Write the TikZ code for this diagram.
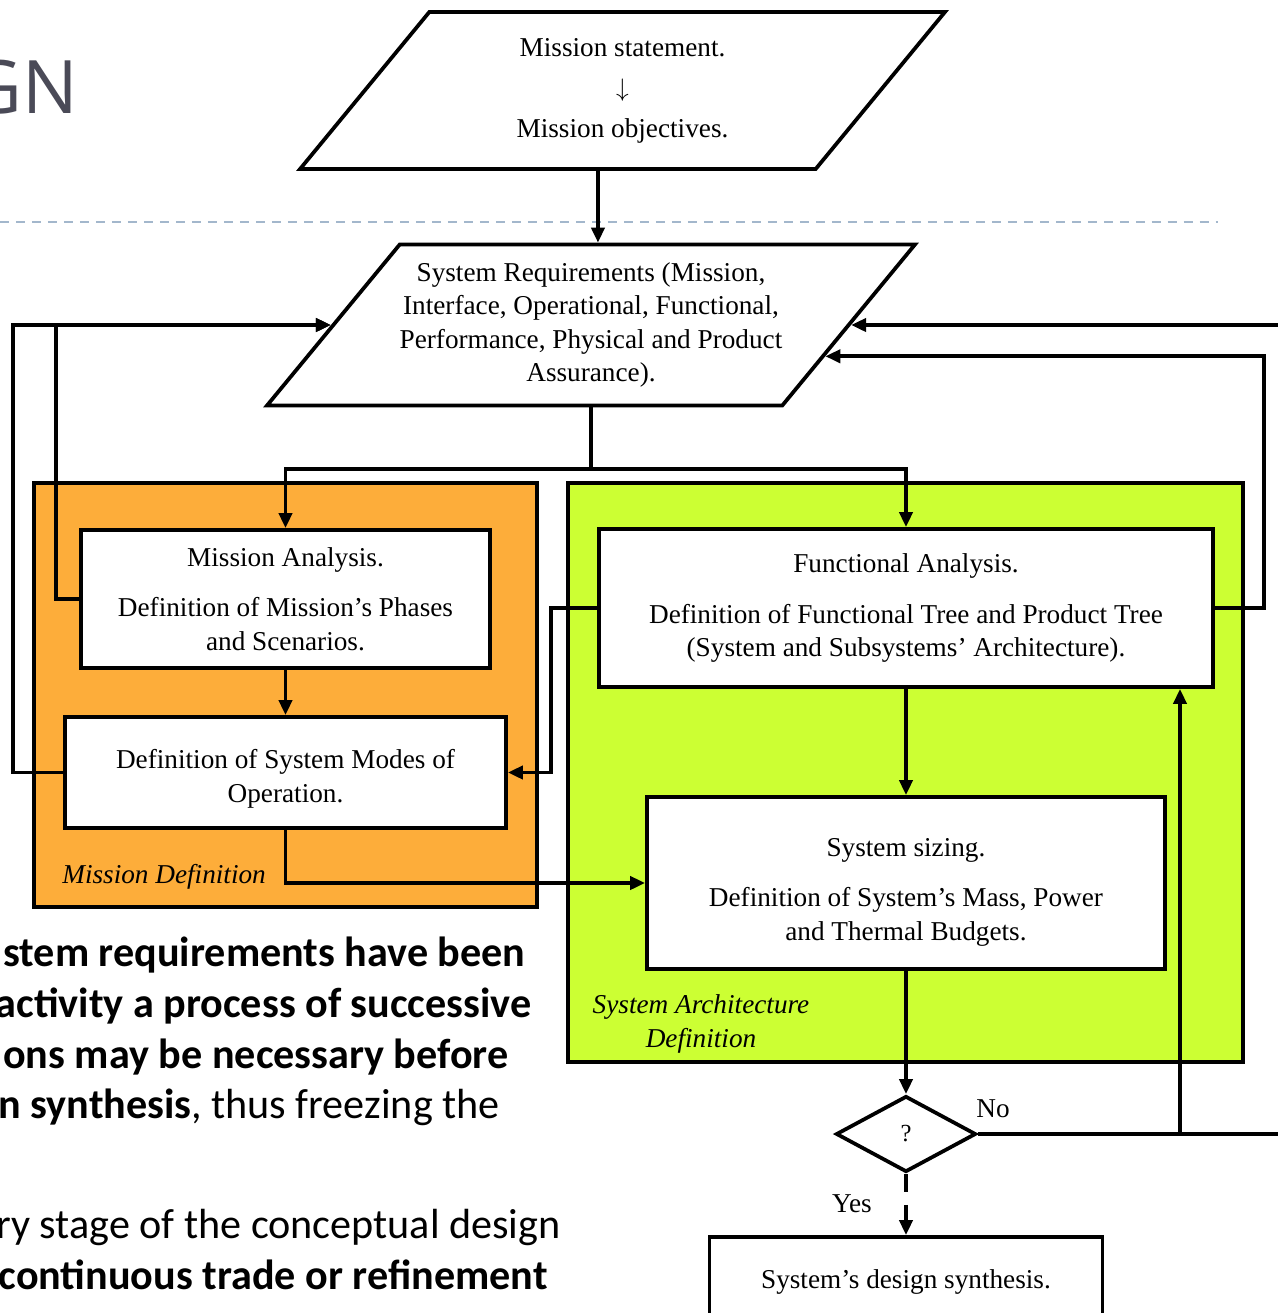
\documentclass[tikz,border=0pt]{standalone}
\usepackage{fontspec}
\setmainfont{Liberation Serif}
\newfontfamily\slidefont{Carlito}
\newfontfamily\headfont{Open Sans}
\usepackage{tikz}
\usetikzlibrary{shapes.geometric, positioning, arrows.meta, calc}

\definecolor{missionorange}{HTML}{FDAD3A}
\definecolor{archgreen}{HTML}{CCFF33}
\definecolor{ruleblue}{HTML}{A3B7CC}
\definecolor{headgray}{HTML}{4A4A57}
\newcommand{\diagfont}{\fontsize{15.5}{19.1}\selectfont}
\newcommand{\slidetext}{\slidefont\fontsize{24}{29}\selectfont}

\begin{document}
\begin{tikzpicture}[
    x=0.02cm, y=-0.02cm,
    procbox/.style={draw, rectangle, fill=white, line width=0.075cm, align=center, font=\diagfont, inner sep=0pt},
    groupbox/.style={draw, rectangle, line width=0.075cm, inner sep=0pt},
    inbox/.style={draw, trapezium, trapezium left angle=50.5, trapezium right angle=129.5, trapezium stretches body,
        fill=white, line width=0.075cm, align=center, font=\diagfont, inner xsep=0pt},
    decbox/.style={draw, diamond, fill=white, line width=0.075cm, font=\fontsize{14}{14}\selectfont, inner sep=0pt},
    grouplabel/.style={font=\diagfont\itshape, inner sep=0pt, align=center},
    slideline/.style={anchor=base east, inner sep=0pt, font=\slidetext},
    arrow/.style={-{Triangle[length=0.3cm, width=0.26cm]}, line width=0.075cm},
    line/.style={line width=0.075cm}
]
    \clip (0,0) rectangle (1278,1313);

    % --- Slide behind the chart ---
    \node[anchor=base east, inner sep=0pt, text=headgray, font=\headfont\fontsize{42}{42}\selectfont] (head) at (78,113) {GN};
    \draw[ruleblue, line width=0.04cm, dash pattern=on 0.18cm off 0.14cm] (0,222) -- (1218,222);

    \node[slideline] (t1) at (526,966) {\bfseries stem requirements have been};
    \node[slideline] (t2) at (532,1017) {\bfseries activity a process of successive};
    \node[slideline] (t3) at (509,1068) {\bfseries ons may be necessary before};
    \node[slideline] (t4) at (500,1118) {\textbf{n synthesis}, thus freezing the};
    \node[slideline] (t5) at (561,1238) {ry stage of the conceptual design};
    \node[slideline] (t6) at (548,1289) {\bfseries continuous trade or refinement};

    % --- Groups ---
    \node[groupbox, fill=missionorange, minimum width=10.06cm, minimum height=8.48cm] (mdef) at (285.5,695) {};
    \node[groupbox, fill=archgreen, minimum width=13.5cm, minimum height=11.58cm] (sadef) at (905.5,772.5) {};
    \node[grouplabel, anchor=base west] (mdeflabel) at (62,883) {Mission Definition};
    \node[grouplabel] (sadeflabel) at (701,1024) {System Architecture\\Definition};

    % --- Inputs ---
    \node[inbox, inner ysep=0.518cm, minimum width=12.9cm, minimum height=3.14cm] (ms) at (622.5,90.5)
        {Mission statement.\\[4pt] $\downarrow$\\[4pt] Mission objectives.};
    \node[inbox, inner ysep=0.355cm, minimum width=12.88cm, minimum height=3.16cm] (req) at (591,325)
        {System Requirements (Mission,\\ Interface, Operational, Functional,\\ Performance, Physical and Product\\ Assurance).};

    % --- Mission Definition ---
    \node[procbox, minimum width=8.18cm, minimum height=2.76cm] (ma) at (285.5,599)
        {Mission Analysis.\\[0.34cm] Definition of Mission’s Phases\\ and Scenarios.};
    \node[procbox, minimum width=8.82cm, minimum height=2.22cm] (mm) at (285.5,772.5)
        {\rule{0pt}{0.64cm}Definition of System Modes of\\ Operation.};

    % --- System Architecture Definition ---
    \node[procbox, minimum width=12.28cm, minimum height=3.16cm] (fa) at (906,608)
        {Functional Analysis.\\[0.34cm] Definition of Functional Tree and Product Tree\\ (System and Subsystems’ Architecture).};
    \node[procbox, minimum width=10.36cm, minimum height=3.44cm] (ss) at (906,883)
        {\rule{0pt}{0.72cm}System sizing.\\[0.34cm] Definition of System’s Mass, Power\\ and Thermal Budgets.};

    % --- Check and synthesis ---
    \node[decbox, minimum width=2.8cm, minimum height=1.52cm] (dec) at (906,1134) {\raisebox{-3pt}{?}};
    \node[procbox, minimum width=7.86cm, minimum height=1.8cm] (syn) at (906,1282) {System’s design synthesis.};
    \node[font=\diagfont, inner sep=0pt] (yes) at (852,1204) {Yes};
    \node[font=\diagfont, inner sep=0pt] (no) at (993,1109) {No};

    % Flow
    \coordinate (msout) at ($(ms.bottom left corner)!0.58!(ms.bottom right corner)$);
    \coordinate (reqin) at ($(req.bottom right corner)!0.31!(req.top right corner)$);
    \draw[arrow] (msout) -- (msout |- req.north);
    \draw[arrow] (req.south) -- ++(0,62) -| (ma.north);
    \draw[arrow] (req.south) -- ++(0,62) -| (fa.north);
    \draw[arrow] (ma.south) -- (mm.north);
    \draw[arrow] (fa.south) -- (ss.north);
    \draw[arrow] (ss.south) -- (dec.north);
    \draw[arrow] (mm.south) |- (ss.west);
    \draw[arrow] (fa.west) -- ++(-46,0) |- (mm.east);
    \draw[arrow, dash pattern=on 0.36cm off 0.26cm on 2cm off 0cm] (dec.south) -- (syn.north);

    % Feedback loops
    \draw[arrow] (mm.west) -- ++(-50,0) |- (req.left side);
    \draw[arrow] (ma.west) -- ++(-23,0) |- (req.left side);
    \draw[arrow] (fa.east) -- ++(49,0) |- (reqin);
    \coordinate (noloop) at (1300,1134);
    \coordinate (nojoin) at (1180,1134);
    \draw[arrow] (dec.east) -- (noloop) |- (req.right side);
    \draw[arrow] (nojoin) -- (nojoin |- fa.south);

\end{tikzpicture}
\end{document}
